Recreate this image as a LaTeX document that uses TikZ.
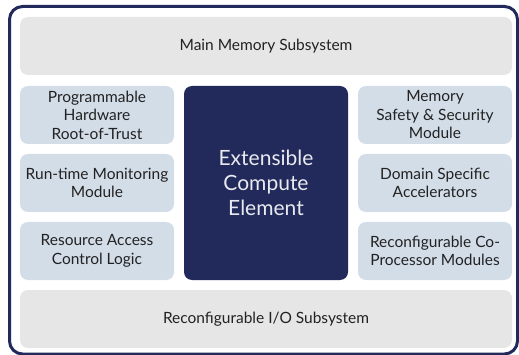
\documentclass[tikz,border=0pt]{standalone}
\usepackage{fontspec}
\setmainfont{Lato}
\definecolor{navy}{HTML}{222A5C}
\definecolor{memgrey}{HTML}{E6E6E6}
\definecolor{sideblue}{HTML}{D3DDE8}
\definecolor{inktext}{HTML}{222222}

\begin{document}
\begin{tikzpicture}[x=1pt,y=-1pt,
    subsys/.style={fill=memgrey,rounded corners=8pt,minimum width=492pt,minimum height=58pt,
      text=inktext,font=\fontsize{15.5}{18.5}\selectfont},
    sidebox/.style={fill=sideblue,rounded corners=8pt,minimum width=154pt,minimum height=58pt,
      align=center,text=inktext,inner sep=1pt,font=\fontsize{15.5}{18.5}\selectfont},
    corebox/.style={fill=navy,rounded corners=8pt,minimum width=164pt,minimum height=194pt,
      align=center,text=white!90!navy,font=\fontsize{21}{25}\selectfont}]
   \useasboundingbox (0,0) rectangle (519,355);
   \draw[navy,line width=3pt,rounded corners=13pt] (9.5,6.5) rectangle (517.5,354);
   % memory and i/o
   \node[subsys] (mem) at (266,46) {Main Memory Subsystem};
   \node[subsys] (io)  at (266,319) {Reconfigurable I/O Subsystem};
   % core
   \node[corebox] (core) at (266,183) {Extensible\\Compute\\Element};
   % left column
   \node[sidebox] (rot) at (97,115) {Programmable\\Hardware\\Root-of-Trust};
   \node[sidebox] (mon) at (97,183) {Run-time Monitoring\\Module};
   \node[sidebox] (rac) at (97,251) {Resource Access\\Control Logic};
   % right column
   \node[sidebox] (mss) at (435,115) {Memory\\Safety \& Security\\Module};
   \node[sidebox] (dsa) at (435,183) {Domain Specific\\Accelerators};
   \node[sidebox] (cop) at (435,251) {Reconfigurable Co-\\Processor Modules};
\end{tikzpicture}
\end{document}
